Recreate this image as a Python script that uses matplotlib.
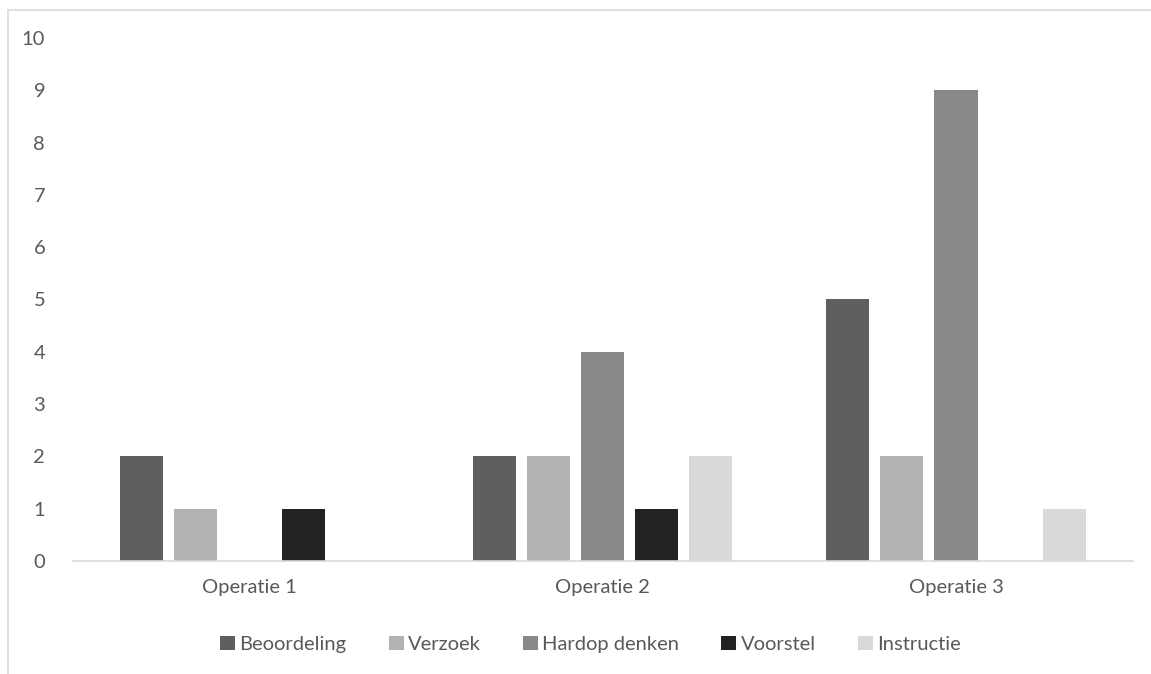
import numpy as np
import matplotlib
matplotlib.use("Agg")
import matplotlib.pyplot as plt
from matplotlib.lines import Line2D
from matplotlib.patches import Patch

# -------------------------------------------------------
# Data
# -------------------------------------------------------
categories = ["Operatie 1", "Operatie 2", "Operatie 3"]
series_names = ["Beoordeling", "Verzoek", "Hardop denken", "Voorstel", "Instructie"]
beoordeling = [2, 2, 5]
verzoek = [1, 2, 2]
hardop_denken = [0, 4, 9]
voorstel = [1, 1, 0]
instructie = [0, 2, 1]
yticks = list(range(0, 11))

series = [beoordeling, verzoek, hardop_denken, voorstel, instructie]
colors = ["#5f5f5f", "#b2b2b2", "#898989", "#222222", "#d9d9d9"]
text_color = "#595959"
line_color = "#d9d9d9"

plt.rcParams["font.family"] = ["Lato", "DejaVu Sans"]
FS = 14.5

fig = plt.figure(figsize=(11.51, 6.74), dpi=100)
ax = fig.add_axes([0.0634, 0.1677, 0.9206, 0.7759])

x = np.arange(len(categories))
width = 0.122
step = 0.153
offsets = (np.arange(len(series)) - (len(series) - 1) / 2) * step

for vals, off, col, name in zip(series, offsets, colors, series_names):
    ax.bar(x + off, vals, width, color=col, label=name)

ax.set_xlim(-0.5, len(categories) - 0.5)
ax.set_ylim(0, 10)
ax.set_yticks(yticks)
ax.set_xticks(x)
ax.set_xticklabels(categories)
ax.tick_params(axis="both", length=0, labelsize=FS, colors=text_color)
ax.tick_params(axis="x", pad=13)
ax.tick_params(axis="y", pad=20)

for side in ["top", "right", "left"]:
    ax.spines[side].set_visible(False)
ax.spines["bottom"].set_color(line_color)
ax.spines["bottom"].set_linewidth(1.2)

handles = [Patch(facecolor=c, label=n) for c, n in zip(colors, series_names)]
leg = fig.legend(handles=handles, loc="center", bbox_to_anchor=(0.513, 0.044),
                 ncol=5, frameon=False, fontsize=FS, handlelength=0.75,
                 handleheight=0.75, handletextpad=0.2, columnspacing=2.1)
for t in leg.get_texts():
    t.set_color(text_color)

# chart area border (top and left edges)
bx = 8 / 1151
by = 1 - 10 / 674
fig.add_artist(Line2D([bx, 1], [by, by], transform=fig.transFigure,
                      color=line_color, lw=1.2))
fig.add_artist(Line2D([bx, bx], [0, by], transform=fig.transFigure,
                      color=line_color, lw=1.2))

fig.savefig("out.png", dpi=100, facecolor="white")
